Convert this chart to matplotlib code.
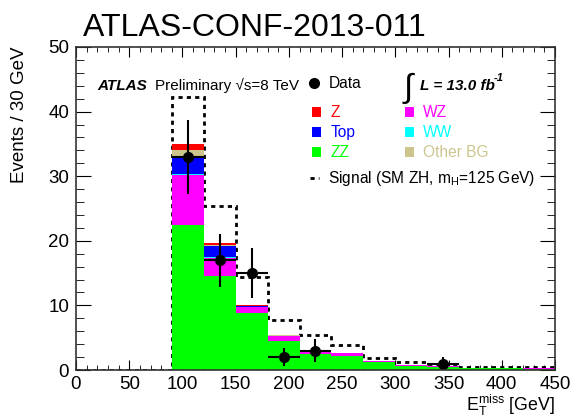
import numpy as np
import matplotlib.pyplot as plt
from matplotlib.patches import Patch
from matplotlib.lines import Line2D
from matplotlib.ticker import MultipleLocator

plt.rcParams['font.family'] = ['Liberation Sans', 'DejaVu Sans']
plt.rcParams['mathtext.fontset'] = 'custom'
plt.rcParams['mathtext.rm'] = 'Liberation Sans'
plt.rcParams['mathtext.it'] = 'Liberation Sans:italic'
plt.rcParams['mathtext.bf'] = 'Liberation Sans:bold'

# bins of 30 GeV from 0 to 450
edges = np.arange(0, 451, 30)

# background stack, bottom to top (events per bin)
zz = [0.05, 0.05, 0.05, 22.4, 14.5, 8.9, 4.5, 2.5, 2.1, 1.2, 0.65, 0.5, 0.3, 0.25, 0.2]
wz = [0.0, 0.0, 0.0, 7.8, 2.9, 0.9, 0.8, 0.6, 0.6, 0.25, 0.15, 0.1, 0.05, 0.05, 0.05]
ww = [0.0, 0.0, 0.0, 0.1, 0.05, 0.0, 0.0, 0.0, 0.0, 0.0, 0.0, 0.0, 0.0, 0.0, 0.0]
top = [0.0, 0.0, 0.0, 2.8, 1.7, 0.05, 0.0, 0.0, 0.0, 0.0, 0.0, 0.0, 0.0, 0.0, 0.0]
other = [0.0, 0.0, 0.0, 0.9, 0.2, 0.05, 0.05, 0.0, 0.0, 0.0, 0.0, 0.0, 0.0, 0.0, 0.0]
zjets = [0.0, 0.0, 0.0, 0.95, 0.3, 0.15, 0.0, 0.0, 0.0, 0.0, 0.0, 0.0, 0.0, 0.0, 0.0]

# signal on top of the background
signal = [0.0, 0.0, 0.0, 7.35, 5.75, 4.3, 2.35, 2.3, 1.15, 0.35, 0.4, 0.35, 0.15, 0.15, 0.15]

# observed events
data = [0, 0, 0, 33, 17, 15, 2, 3, 0, 0, 0, 1, 0, 0, 0]

fig = plt.figure(figsize=(5.74, 4.17), dpi=100)
ax = fig.add_axes([0.1324, 0.1127, 0.8345, 0.7746])

stack = [(zz, 'ZZ', '#00ff00'), (wz, 'WZ', '#ff00ff'), (ww, 'WW', '#00ffff'),
         (top, 'Top', '#0000ff'), (other, 'Other BG', '#ccc68e'), (zjets, 'Z', '#ff0000')]
bottom = np.zeros(len(zz))
for vals, name, col in stack:
    ax.bar(edges[:-1], vals, width=30, bottom=bottom, align='edge', color=col,
           linewidth=0, zorder=2)
    bottom = bottom + np.array(vals)

# signal outline sits behind the stacked fills
ax.stairs(bottom + np.array(signal), edges, color='black', linewidth=2,
          linestyle=(0, (1.5, 1.5)), zorder=1)

d = np.array(data, dtype=float)
centers = 0.5 * (edges[:-1] + edges[1:])
m = d > 0
ax.errorbar(centers[m], d[m], yerr=np.sqrt(d[m]), xerr=15, fmt='o', color='black',
            markersize=7, elinewidth=1.5, capsize=0, zorder=3)

ax.set_xlim(0, 450)
ax.set_ylim(0, 50)
ax.xaxis.set_major_locator(MultipleLocator(50))
ax.xaxis.set_minor_locator(MultipleLocator(10))
ax.yaxis.set_major_locator(MultipleLocator(10))
ax.yaxis.set_minor_locator(MultipleLocator(2))
ax.tick_params(which='both', direction='in', top=True, right=True, labelsize=13.5)
ax.tick_params(axis='x', which='major', length=7, pad=4)
ax.tick_params(axis='x', which='minor', length=3.5)
ax.tick_params(axis='y', which='major', length=11, pad=5)
ax.tick_params(axis='y', which='minor', length=5.5)
for s in ax.spines.values():
    s.set_linewidth(1.2)
    s.set_color('#333333')
    s.set_zorder(4)

ax.set_ylabel('Events / 30 GeV', fontsize=13.5, loc='top')
ax.yaxis.set_label_coords(-0.10, 1.0)
ax.set_xlabel(r'$\mathrm{E_{T}^{miss}}$ [GeV]', fontsize=12.8, loc='right', labelpad=0)

fig.text(0.145, 0.914, 'ATLAS-CONF-2013-011', fontsize=23, va='baseline')

# labels inside the frame
ax.text(0.044, 0.88, 'ATLAS', transform=ax.transAxes, fontsize=11,
        fontweight='bold', style='italic', va='center')
ax.text(0.165, 0.88, 'Preliminary \u221as=8 TeV', transform=ax.transAxes,
        fontsize=11, va='center')
ax.text(0.683, 0.872, '\u222b', transform=ax.transAxes, fontsize=24, va='center')
ax.text(0.718, 0.88, 'L = 13.0 fb', transform=ax.transAxes, fontsize=11,
        fontweight='bold', style='italic', va='center')
ax.text(0.872, 0.905, '-1', transform=ax.transAxes, fontsize=8,
        fontweight='bold', style='italic', va='center')

common = dict(frameon=False, fontsize=11.2, borderpad=0, borderaxespad=0,
              handlelength=0.6, handleheight=0.6, handletextpad=0.6, labelspacing=0.32,
              loc='upper left')

leg1 = ax.legend([Line2D([], [], marker='o', ls='none', color='black', markersize=7)],
                 ['Data'], bbox_to_anchor=(0.488, 0.91), **common)
ax.add_artist(leg1)

col1 = [('Z', '#ff0000'), ('Top', '#0000ff'), ('ZZ', '#00ff00')]
col2 = [('WZ', '#ff00ff'), ('WW', '#00ffff'), ('Other BG', '#ccc68e')]
for entries, x0 in [(col1, 0.492), (col2, 0.686)]:
    leg = ax.legend([Patch(color=c, linewidth=0) for _, c in entries],
                    [n for n, _ in entries], bbox_to_anchor=(x0, 0.82), **common)
    for t, (_, c) in zip(leg.get_texts(), entries):
        t.set_color(c)
    ax.add_artist(leg)

leg4 = ax.legend([Line2D([], [], color='black', lw=2, ls=(0, (1.5, 1.5)))],
                 ['Signal (SM ZH, m$_{\\mathrm{H}}$=125 GeV)'],
                 bbox_to_anchor=(0.488, 0.622), **common)

fig.savefig('out.png', dpi=100)
